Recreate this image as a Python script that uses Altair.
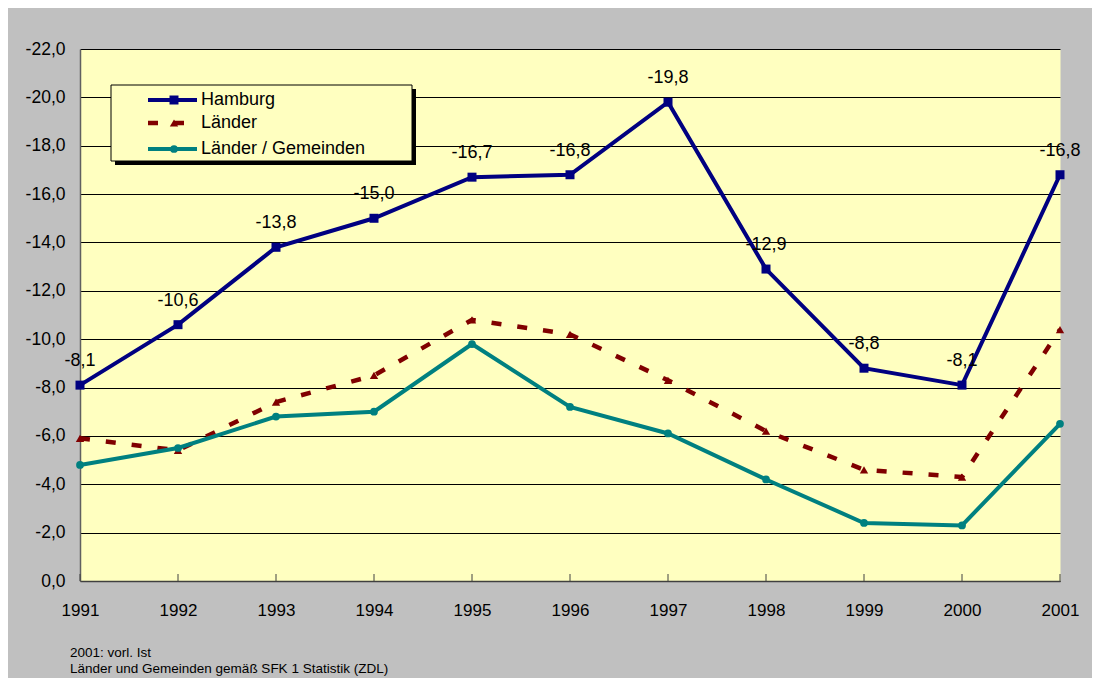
import altair as alt
import pandas as pd

years = list(range(1991, 2002))
series_names = ["Hamburg", "Länder", "Länder / Gemeinden"]
hamburg = [-8.1, -10.6, -13.8, -15.0, -16.7, -16.8, -19.8, -12.9, -8.8, -8.1, -16.8]
laender = [-5.9, -5.4, -7.4, -8.5, -10.8, -10.2, -8.3, -6.2, -4.6, -4.3, -10.4]
laender_gemeinden = [-4.8, -5.5, -6.8, -7.0, -9.8, -7.2, -6.1, -4.2, -2.4, -2.3, -6.5]
y_ticks = list(range(-22, 1, 2))
footnotes = ["2001: vorl. Ist", "Länder und Gemeinden gemäß SFK 1 Statistik (ZDL)"]

FONT = "Liberation Sans"
NAVY = "#000080"
BROWN = "#800000"
TEAL = "#008080"
YELLOW = "#FFFFC0"
GRAY = "#C0C0C0"

x_enc = alt.X(
    "Jahr:Q",
    scale=alt.Scale(domain=[1991, 2001], nice=False, zero=False),
    axis=alt.Axis(values=years, format="d", title=None, ticks=False, grid=False,
                  labelFlush=False, labelPadding=21, labelFontSize=17,
                  labelFont=FONT, labelColor="black", domainColor="#404040",
                  domainWidth=1.5),
)
y_enc = alt.Y(
    "Wert:Q",
    scale=alt.Scale(domain=[-22, 0], reverse=True, nice=False, zero=False),
    axis=alt.Axis(values=y_ticks, title=None, ticks=False, grid=True,
                  gridColor="black", gridOpacity=1, gridWidth=1,
                  labelExpr="(datum.value < 0 ? '-' : '') + replace(format(abs(datum.value), '.1f'), '.', ',')",
                  labelPadding=15, labelFontSize=17.5, labelFont=FONT,
                  labelColor="black", domainColor="#606060", domainWidth=1.5),
)


def frame(vals):
    return pd.DataFrame({"Jahr": years, "Wert": vals})


df_h = frame(hamburg)
df_h["label"] = [f"{v:.1f}".replace(".", ",") for v in hamburg]
df_l = frame(laender)
df_lg = frame(laender_gemeinden)

layers = []

# inner x ticks
layers.append(
    alt.Chart(pd.DataFrame({"Jahr": years, "Wert": [0] * len(years)}))
    .mark_rule(color="#404040", strokeWidth=1)
    .encode(x=x_enc, y=alt.value(525), y2=alt.value(532))
)

# Länder (dashed, triangles)
layers.append(alt.Chart(df_l).mark_line(color=BROWN, strokeWidth=4.5, strokeDash=[10, 16])
              .encode(x=x_enc, y=y_enc))
layers.append(alt.Chart(df_l).mark_point(filled=True, shape="triangle-up", size=70,
                                         color=BROWN, opacity=1)
              .encode(x=x_enc, y=y_enc))

# Länder / Gemeinden
layers.append(alt.Chart(df_lg).mark_line(color=TEAL, strokeWidth=4)
              .encode(x=x_enc, y=y_enc))
layers.append(alt.Chart(df_lg).mark_point(filled=True, shape="circle", size=60,
                                          color=TEAL, opacity=1)
              .encode(x=x_enc, y=y_enc))

# Hamburg
layers.append(alt.Chart(df_h).mark_line(color=NAVY, strokeWidth=4)
              .encode(x=x_enc, y=y_enc))
layers.append(alt.Chart(df_h).mark_point(filled=True, shape="square", size=81,
                                         color=NAVY, opacity=1)
              .encode(x=x_enc, y=y_enc))
layers.append(alt.Chart(df_h).mark_text(dy=-24, fontSize=18, font=FONT, color="black")
              .encode(x=x_enc, y=y_enc, text="label:N"))

# Legend box with shadow
one = pd.DataFrame({"k": [0]})
layers.append(alt.Chart(one).mark_rect(fill="black")
              .encode(x=alt.value(35), x2=alt.value(336), y=alt.value(40), y2=alt.value(116)))
layers.append(alt.Chart(one).mark_rect(fill=YELLOW, stroke="black", strokeWidth=1)
              .encode(x=alt.value(31), x2=alt.value(332), y=alt.value(36), y2=alt.value(112)))

legend_specs = [
    (series_names[0], NAVY, None, "square", 81, 51),
    (series_names[1], BROWN, [10, 16], "triangle-up", 70, 74),
    (series_names[2], TEAL, None, "circle", 60, 100),
]
for name, color, dash, shape, size, ly in legend_specs:
    d = pd.DataFrame({"name": [name]})
    rule_kwargs = dict(color=color, strokeWidth=4.5 if dash else 4)
    if dash:
        rule_kwargs["strokeDash"] = dash
    layers.append(alt.Chart(d).mark_rule(**rule_kwargs)
                  .encode(x=alt.value(68), x2=alt.value(117), y=alt.value(ly)))
    layers.append(alt.Chart(d).mark_point(filled=True, shape=shape, size=size, color=color, opacity=1)
                  .encode(x=alt.value(94), y=alt.value(ly)))
    layers.append(alt.Chart(d).mark_text(align="left", baseline="middle", fontSize=18,
                                         font=FONT, color="black")
                  .encode(x=alt.value(121), y=alt.value(ly), text="name:N"))

# Footnotes
for i, txt in enumerate(footnotes):
    d = pd.DataFrame({"t": [txt]})
    layers.append(alt.Chart(d).mark_text(align="left", baseline="alphabetic", fontSize=13.5,
                                         font=FONT, color="black")
                  .encode(x=alt.value(-10), y=alt.value(608 + 16 * i), text="t:N"))

chart = (
    alt.layer(*layers)
    .properties(
        width=980,
        height=532,
        autosize=alt.AutoSizeParams(type="none"),
        padding={"left": 72, "top": 41, "right": 32, "bottom": 97},
        background=GRAY,
    )
    .configure_view(fill=YELLOW, stroke="transparent")
)

chart.save("out.html", embed_options={"renderer": "svg", "actions": False})
